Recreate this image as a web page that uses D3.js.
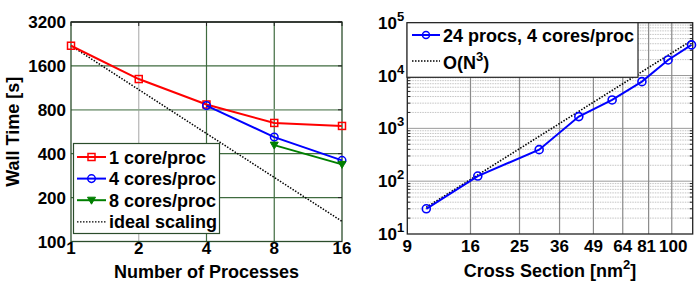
<!DOCTYPE html>
<html>
<head>
<meta charset="utf-8">
<script src="https://cdn.jsdelivr.net/npm/d3@7"></script>
<style>
  body { margin: 0; background: #fff; }
  svg { display: block; font-family: "Liberation Sans", Arial, sans-serif; font-weight: bold; }
</style>
</head>
<body>
<svg id="chart"></svg>
<script>
// left panel: strong scaling
const procs = [1, 2, 4, 8, 16];
const oneCore = [2200, 1300, 870, 650, 620];
const fourProcs = [4, 8, 16];
const fourCores = [855, 520, 360];
const eightProcs = [8, 16];
const eightCores = [458, 338];
const idealTime = [2200, 1100, 550, 275, 137.5];
const leftYTicks = [100, 200, 400, 800, 1600, 3200];
const leftXTicks = [1, 2, 4, 8, 16];

// right panel: size scaling
const crossSection = [10.7, 17.1, 29.9, 42.9, 58.1, 76.2, 96.7, 119.7];
const wallTime24 = [30, 125, 395, 1670, 3450, 7660, 19700, 38000];
const idealSection = [10.7, 119.7];
const idealWall = [32, 46000];
const rightXTicks = [9, 16, 25, 36, 49, 64, 81, 100];
const rightYExp = [1, 2, 3, 4, 5];

const width = 700;
const height = 283;
const svg = d3.select("#chart")
    .attr("width", width)
    .attr("height", height)
    .attr("viewBox", [0, 0, width, height]);

const tickFont = 17;
const labelFont = 18;

// ---------- left panel ----------
const L = {left: 71, right: 342, top: 22, bottom: 241.5};
const x1 = d3.scaleLog().base(2).domain([1, 16]).range([L.left, L.right]);
const y1 = d3.scaleLog().base(2).domain([100, 3200]).range([L.bottom, L.top]);

const gL = svg.append("g");
// grid
gL.append("g")
    .selectAll("line")
    .data(leftXTicks.slice(1, -1))
    .join("line")
    .attr("x1", d => x1(d)).attr("x2", d => x1(d))
    .attr("y1", L.top).attr("y2", L.bottom)
    .attr("stroke", d => d === 2 ? "#b4b4b4" : "#3f6b3f")
    .attr("stroke-width", 1.2);
gL.append("g")
    .selectAll("line")
    .data(leftYTicks.slice(1, -1))
    .join("line")
    .attr("x1", L.left).attr("x2", L.right)
    .attr("y1", d => y1(d)).attr("y2", d => y1(d))
    .attr("stroke", d => d === 800 ? "#8fa98f" : "#3f6b3f")
    .attr("stroke-width", d => d === 800 ? 1.8 : 1.2);

// box
gL.append("rect")
    .attr("x", L.left).attr("y", L.top)
    .attr("width", L.right - L.left).attr("height", L.bottom - L.top)
    .attr("fill", "none").attr("stroke", "#2b4d2b").attr("stroke-width", 1.3);
gL.append("line")
    .attr("x1", L.left).attr("x2", L.right).attr("y1", L.top).attr("y2", L.top)
    .attr("stroke", "#222").attr("stroke-width", 1.3);

// ticks inward
gL.append("g").selectAll("line").data(leftXTicks).join("line")
    .attr("x1", d => x1(d)).attr("x2", d => x1(d))
    .attr("y1", L.top).attr("y2", L.top + 4).attr("stroke", "#222");
gL.append("g").selectAll("line").data(leftYTicks).join("line")
    .attr("x1", L.right).attr("x2", L.right - 4)
    .attr("y1", d => y1(d)).attr("y2", d => y1(d)).attr("stroke", "#222");

// tick labels
gL.append("g").selectAll("text").data(leftYTicks).join("text")
    .attr("x", L.left - 5).attr("y", d => y1(d) + 6)
    .attr("text-anchor", "end").attr("font-size", tickFont)
    .text(d => d);
gL.append("g").selectAll("text").data(leftXTicks).join("text")
    .attr("x", d => x1(d)).attr("y", 253.5)
    .attr("text-anchor", "middle").attr("font-size", tickFont)
    .text(d => d);

gL.append("text")
    .attr("x", (L.left + L.right) / 2).attr("y", 278)
    .attr("text-anchor", "middle").attr("font-size", labelFont)
    .text("Number of Processes");
gL.append("text")
    .attr("transform", `translate(19,${(L.top + L.bottom) / 2}) rotate(-90)`)
    .attr("text-anchor", "middle").attr("font-size", labelFont)
    .text("Wall Time [s]");

const line1 = d3.line().x(d => x1(d[0])).y(d => y1(d[1]));

gL.append("path")
    .attr("d", line1(procs.map((p, i) => [p, idealTime[i]])))
    .attr("fill", "none").attr("stroke", "#000").attr("stroke-width", 1.5)
    .attr("stroke-dasharray", "1.5,1.5");

const series = [
  {name: "1 core/proc", xs: procs, ys: oneCore, color: "#ff0000", marker: "square"},
  {name: "4 cores/proc", xs: fourProcs, ys: fourCores, color: "#0000ff", marker: "circle"},
  {name: "8 cores/proc", xs: eightProcs, ys: eightCores, color: "#007f00", marker: "triangle"}
];

function drawMarker(g, type, cx, cy, color) {
  if (type === "square") {
    g.append("rect").attr("x", cx - 3.5).attr("y", cy - 3.5).attr("width", 7).attr("height", 7)
      .attr("fill", "none").attr("stroke", color).attr("stroke-width", 1.5);
  } else if (type === "circle") {
    g.append("circle").attr("cx", cx).attr("cy", cy).attr("r", 3.8)
      .attr("fill", "none").attr("stroke", color).attr("stroke-width", 1.5);
  } else {
    g.append("path").attr("d", `M${cx - 4},${cy - 3}L${cx + 4},${cy - 3}L${cx},${cy + 4}Z`)
      .attr("fill", color).attr("stroke", color).attr("stroke-width", 1);
  }
}

series.forEach(s => {
  const pts = s.xs.map((p, i) => [p, s.ys[i]]);
  gL.append("path").attr("d", line1(pts))
    .attr("fill", "none").attr("stroke", s.color).attr("stroke-width", 2);
  pts.forEach(p => drawMarker(gL, s.marker, x1(p[0]), y1(p[1]), s.color));
});

// legend left
const legL = gL.append("g");
legL.append("rect").attr("x", 73.5).attr("y", 143.5).attr("width", 146).attr("height", 90)
    .attr("fill", "#fff").attr("stroke", "#2b4d2b").attr("stroke-width", 1.2);
const legRows = [...series, {name: "ideal scaling", color: "#000", marker: null}];
legRows.forEach((s, i) => {
  const yy = 157 + i * 21.6;
  legL.append("line").attr("x1", 77).attr("x2", 106).attr("y1", yy).attr("y2", yy)
    .attr("stroke", s.color).attr("stroke-width", s.marker ? 2 : 1.3)
    .attr("stroke-dasharray", s.marker ? null : "1.5,1.5");
  if (s.marker) drawMarker(legL, s.marker, 91.5, yy, s.color);
  legL.append("text").attr("x", 109).attr("y", yy + 6.5)
    .attr("font-size", labelFont).text(s.name);
});

// ---------- right panel ----------
const R = {left: 407.3, right: 692.7, top: 22.7, bottom: 234};
const x2 = d3.scaleLog().domain([9, 121]).range([R.left, R.right]);
const y2 = d3.scaleLog().domain([10, 1e5]).range([R.bottom, R.top]);

const gR = svg.append("g");
const minorY = [];
for (let e = 1; e < 5; e++) for (let m = 2; m <= 9; m++) minorY.push(m * Math.pow(10, e));

gR.append("g").selectAll("line").data(minorY).join("line")
    .attr("x1", R.left).attr("x2", R.right)
    .attr("y1", d => y2(d)).attr("y2", d => y2(d))
    .attr("stroke", "#c4c4c4").attr("stroke-width", 1)
    .attr("stroke-dasharray", "1.5,1");
gR.append("g").selectAll("line").data(rightYExp.slice(1, -1)).join("line")
    .attr("x1", R.left).attr("x2", R.right)
    .attr("y1", d => y2(Math.pow(10, d))).attr("y2", d => y2(Math.pow(10, d)))
    .attr("stroke", "#9a9a9a").attr("stroke-width", 1);
gR.append("g").selectAll("line").data(rightXTicks.slice(1)).join("line")
    .attr("x1", d => x2(d)).attr("x2", d => x2(d))
    .attr("y1", R.top).attr("y2", R.bottom)
    .attr("stroke", "#8a8a8a").attr("stroke-width", 1.2);

gR.append("rect")
    .attr("x", R.left).attr("y", R.top)
    .attr("width", R.right - R.left).attr("height", R.bottom - R.top)
    .attr("fill", "none").attr("stroke", "#222").attr("stroke-width", 1.3);

// minor ticks on y axes
gR.append("g").selectAll("line").data(minorY).join("line")
    .attr("x1", R.right).attr("x2", R.right - 3)
    .attr("y1", d => y2(d)).attr("y2", d => y2(d)).attr("stroke", "#222");
gR.append("g").selectAll("line").data(minorY).join("line")
    .attr("x1", R.left).attr("x2", R.left + 3)
    .attr("y1", d => y2(d)).attr("y2", d => y2(d)).attr("stroke", "#222");

// tick labels
const yl = gR.append("g").selectAll("text").data(rightYExp).join("text")
    .attr("x", 378).attr("y", d => y2(Math.pow(10, d)) + 6)
    .attr("font-size", tickFont);
yl.append("tspan").text("10");
yl.append("tspan").attr("dy", -8).attr("font-size", 13).text(d => d);

gR.append("g").selectAll("text").data(rightXTicks).join("text")
    .attr("x", d => x2(d) + (d === 81 ? -2 : d === 100 ? 1.5 : 0)).attr("y", 252)
    .attr("text-anchor", "middle").attr("font-size", tickFont)
    .text(d => d);

const xl = gR.append("text")
    .attr("x", 550).attr("y", 277)
    .attr("text-anchor", "middle").attr("font-size", labelFont);
xl.append("tspan").text("Cross Section [nm");
xl.append("tspan").attr("dy", -8).attr("font-size", 13).text("2");
xl.append("tspan").attr("dy", 8).text("]");

const line2 = d3.line().x(d => x2(d[0])).y(d => y2(d[1]));
gR.append("path")
    .attr("d", line2(idealSection.map((s, i) => [s, idealWall[i]])))
    .attr("fill", "none").attr("stroke", "#000").attr("stroke-width", 1.6)
    .attr("stroke-dasharray", "1.5,1.5");
const pts2 = crossSection.map((s, i) => [s, wallTime24[i]]);
gR.append("path").attr("d", line2(pts2))
    .attr("fill", "none").attr("stroke", "#0000ff").attr("stroke-width", 2);
pts2.forEach(p => gR.append("circle")
    .attr("cx", x2(p[0])).attr("cy", y2(p[1])).attr("r", 4)
    .attr("fill", "none").attr("stroke", "#0000ff").attr("stroke-width", 1.6));

// legend right
const legR = gR.append("g");
legR.append("rect").attr("x", 407).attr("y", 22.7).attr("width", 231).attr("height", 54.6)
    .attr("fill", "#fff").attr("stroke", "#222").attr("stroke-width", 1.2);
legR.append("line").attr("x1", 412).attr("x2", 440).attr("y1", 35).attr("y2", 35)
    .attr("stroke", "#0000ff").attr("stroke-width", 2);
legR.append("circle").attr("cx", 426).attr("cy", 35).attr("r", 3.5)
    .attr("fill", "none").attr("stroke", "#0000ff").attr("stroke-width", 1.5);
legR.append("text").attr("x", 443).attr("y", 41.5).attr("font-size", labelFont)
    .text("24 procs, 4 cores/proc");
legR.append("line").attr("x1", 412).attr("x2", 440).attr("y1", 61).attr("y2", 61)
    .attr("stroke", "#000").attr("stroke-width", 1.3).attr("stroke-dasharray", "1.5,1.5");
const lt = legR.append("text").attr("x", 443).attr("y", 69).attr("font-size", labelFont);
lt.append("tspan").text("O(N");
lt.append("tspan").attr("dy", -8).attr("font-size", 13).text("3");
lt.append("tspan").attr("dy", 8).text(")");
</script>
</body>
</html>
